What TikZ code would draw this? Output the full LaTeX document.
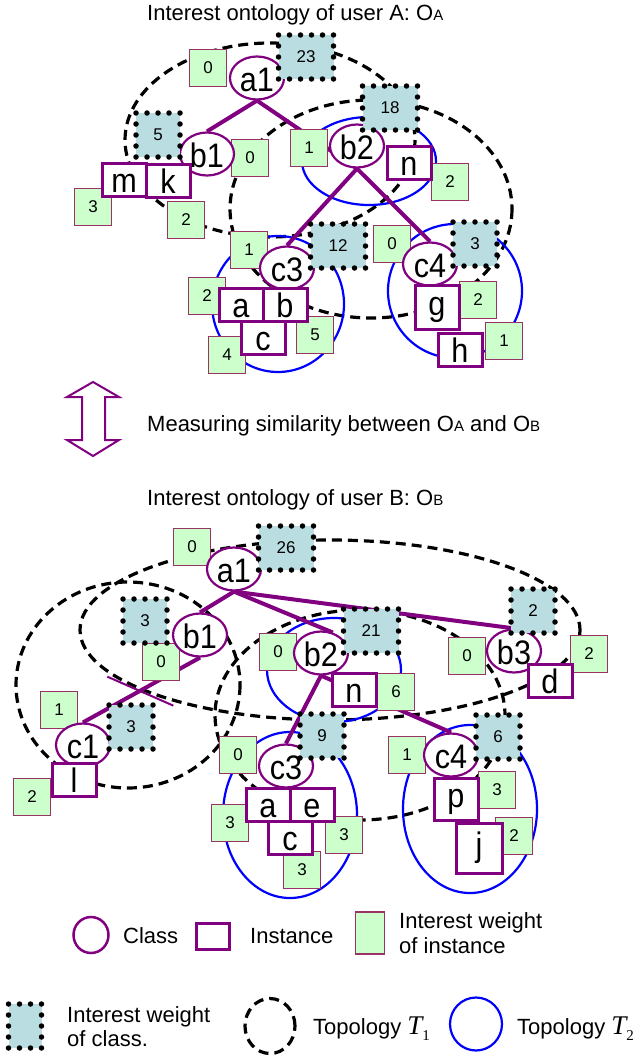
\documentclass[tikz,border=0pt]{standalone}
\usepackage{fontspec}
\setmainfont{Liberation Sans}
\newfontfamily\labelfont[FakeStretch=0.9]{Liberation Sans}
\newfontfamily\serifmath{Liberation Serif}
\usetikzlibrary{shapes.geometric}

\definecolor{classpurple}{HTML}{800080}
\definecolor{instgreen}{HTML}{CCFFCC}
\definecolor{instedge}{HTML}{993366}
\definecolor{classblue}{HTML}{B9DDE1}
\definecolor{topoblue}{HTML}{0000FF}

\pgfdeclarelayer{topology}
\pgfdeclarelayer{links}
\pgfsetlayers{topology,links,main}

% small capital used after the ontology symbol O
\newcommand\capsub[1]{{\fontsize{15}{15}\selectfont #1}}
% topology symbol T with an upright subscript
\newcommand\topsym[1]{{\serifmath\fontsize{27}{27}\selectfont\itshape T}\raisebox{-6pt}{\serifmath\fontsize{15}{15}\selectfont #1}}

\tikzset{
  lbl/.style={font=\labelfont\fontsize{34}{34}\selectfont},
  classnode/.style={ellipse, draw=classpurple, line width=2.2pt, fill=white,
    minimum width=54pt, minimum height=43pt, inner sep=0pt, lbl,
    text height=26pt, text depth=0pt},
  instnode/.style={rectangle, draw=classpurple, line width=3pt, fill=white,
    minimum width=44pt, minimum height=33pt, inner sep=0pt, lbl,
    text height=26pt, text depth=2pt},
  tallinst/.style={text height=24pt, text depth=8pt},
  iweight/.style={rectangle, draw=instedge, line width=1.6pt, fill=instgreen,
    minimum width=37pt, minimum height=37pt, inner sep=0pt,
    font=\fontsize{17}{17}\selectfont},
  cweight/.style={rectangle, fill=classblue, minimum width=44pt, minimum height=44pt,
    inner sep=0pt, font=\fontsize{17}{17}\selectfont,
    postaction={draw=black, line width=5.5pt, line cap=round, dash pattern=on 0pt off 11pt}},
  wide/.style={minimum width=55pt},
  link/.style={draw=classpurple, line width=4pt},
  cutmark/.style={draw=classpurple, line width=2pt},
  topoone/.style={draw=black, line width=3.2pt, dash pattern=on 10pt off 6pt},
  topotwo/.style={draw=topoblue, line width=2.2pt},
  caption/.style={anchor=base west, inner sep=0pt, font=\fontsize{22}{22}\selectfont},
}

\begin{document}
\begin{tikzpicture}[x=1pt, y=-1pt]
\useasboundingbox (0,0) rectangle (643,1057);

% ---------------- captions ----------------
\node[caption] (capA) at (147,21) {Interest ontology of user A: O\capsub{A}};
\node[caption] (capM) at (147,431) {Measuring similarity between O\capsub{A} and O\capsub{B}};
\node[caption] (capB) at (147,505) {Interest ontology of user B: O\capsub{B}};

% double arrow between the two ontologies
\draw[classpurple, line width=2pt, fill=white, line join=miter]
  (93,382) -- (119,397) -- (105,397) -- (105,440) -- (119,440) -- (93,456)
  -- (67,440) -- (82,440) -- (82,397) -- (67,397) -- cycle;

% ================= ontology of user A =================
\begin{pgfonlayer}{topology}
  \draw[topoone] (270,140) ellipse [x radius=145, y radius=97];
  \draw[topoone] (371,209) ellipse [x radius=141, y radius=109];
  \draw[topotwo] (369,161) ellipse [x radius=67, y radius=44];
  \draw[topotwo] (278,304) ellipse [x radius=66, y radius=68];
  \draw[topotwo] (455,291) ellipse [x radius=67, y radius=67];
\end{pgfonlayer}

% instance weights
\node[iweight] (A-w-a1)  at (208,68)  {0};
\node[iweight] (A-w-b1)  at (250,158) {0};
\node[iweight] (A-w-b2)  at (309,148) {1};
\node[iweight] (A-w-m)   at (93,207)  {3};
\node[iweight] (A-w-k)   at (186,220) {2};
\node[iweight] (A-w-n)   at (450,182) {2};
\node[iweight] (A-w-c3)  at (249,250) {1};
\node[iweight] (A-w-a)   at (207,296) {2};
\node[iweight] (A-w-b)   at (315,335) {5};
\node[iweight] (A-w-c)   at (227,355) {4};
\node[iweight] (A-w-c4)  at (392,244) {0};
\node[iweight] (A-w-g)   at (478,300) {2};
\node[iweight] (A-w-h)   at (504,341) {1};

% classes
\node[classnode] (A-a1) at (257,78)  {a1};
\node[classnode] (A-b1) at (207,154) {b1};
\node[classnode] (A-b2) at (357,146) {b2};
\node[classnode] (A-c3) at (287,268) {c3};
\node[classnode] (A-c4) at (430,264) {c4};

% instances
\node[instnode] (A-m) at (124,180) {m};
\node[instnode] (A-k) at (168,181) {k};
\node[instnode] (A-n) at (409,163) {n};
\node[instnode] (A-a) at (241,305) {a};
\node[instnode] (A-b) at (285,305) {b};
\node[instnode] (A-c) at (263,338) {c};
\node[instnode, tallinst, minimum height=44pt] (A-g) at (437,307) {g};
\node[instnode] (A-h) at (460,350) {h};

% class weights
\node[cweight, wide] (A-cw-a1) at (306,57)  {23};
\node[cweight]       (A-cw-b1) at (158,135) {5};
\node[cweight, wide] (A-cw-b2) at (390,108) {18};
\node[cweight, wide] (A-cw-c3) at (338,246) {12};
\node[cweight]       (A-cw-c4) at (475,244) {3};

\begin{pgfonlayer}{links}
  \draw[link] (A-a1.south) -- (A-b1.north);
  \draw[link] (A-a1.south) -- (A-b2.south);
  \draw[link] (A-b2.south) -- (A-c3.north);
  \draw[link] (A-b2.south) -- (A-c4.north);
\end{pgfonlayer}

% ================= ontology of user B =================
\begin{pgfonlayer}{topology}
  \draw[topoone] (330,630) ellipse [x radius=250, y radius=90];
  \draw[topoone] (128,685) ellipse [x radius=112, y radius=103];
  \draw[topoone] (360,715) ellipse [x radius=145, y radius=105];
  \draw[topotwo] (334,670) ellipse [x radius=67, y radius=52];
  \draw[topotwo] (290,815) ellipse [x radius=67, y radius=83];
  \draw[topotwo] (470,809) ellipse [x radius=67, y radius=84];
\end{pgfonlayer}

% instance weights
\node[iweight] (B-w-a1) at (192,547) {0};
\node[iweight] (B-w-b1) at (161,662) {0};
\node[iweight] (B-w-c1) at (59,710)  {1};
\node[iweight] (B-w-l)  at (32,797)  {2};
\node[iweight] (B-w-b2) at (278,652) {0};
\node[iweight] (B-w-n)  at (396,692) {6};
\node[iweight] (B-w-b3) at (467,656) {0};
\node[iweight] (B-w-d)  at (589,654) {2};
\node[iweight] (B-w-c3) at (238,755) {0};
\node[iweight] (B-w-a)  at (230,823) {3};
\node[iweight] (B-w-e)  at (344,835) {3};
\node[iweight] (B-w-c)  at (302,870) {3};
\node[iweight] (B-w-c4) at (407,755) {1};
\node[iweight] (B-w-p)  at (497,790) {3};
\node[iweight] (B-w-j)  at (514,836) {2};

% classes
\node[classnode] (B-a1) at (234,569) {a1};
\node[classnode] (B-b1) at (200,635) {b1};
\node[classnode] (B-b2) at (321,653) {b2};
\node[classnode] (B-b3) at (514,651) {b3};
\node[classnode] (B-c1) at (83,745)  {c1};
\node[classnode] (B-c3) at (286,766) {c3};
\node[classnode] (B-c4) at (451,755) {c4};

% instances
\node[instnode] (B-l) at (74,780)  {l};
\node[instnode] (B-n) at (354,690) {n};
\node[instnode] (B-d) at (550,681) {d};
\node[instnode] (B-a) at (268,805) {a};
\node[instnode] (B-e) at (312,805) {e};
\node[instnode] (B-c) at (290,838) {c};
\node[instnode, tallinst, minimum height=42pt] (B-p) at (456,799) {p};
\node[instnode, tallinst, minimum width=46pt, minimum height=50pt] (B-j) at (479,848) {j};

% class weights
\node[cweight, wide] (B-cw-a1) at (286,548) {26};
\node[cweight]       (B-cw-b1) at (145,621) {3};
\node[cweight]       (B-cw-c1) at (131,727) {3};
\node[cweight, wide] (B-cw-b2) at (371,631) {21};
\node[cweight]       (B-cw-b3) at (533,611) {2};
\node[cweight]       (B-cw-c3) at (322,736) {9};
\node[cweight]       (B-cw-c4) at (498,737) {6};

\begin{pgfonlayer}{links}
  \draw[link] (B-a1.south) -- (B-b1.north);
  \draw[link] (B-a1.south) -- (B-b2.60);
  \draw[link] (B-a1.south) -- (B-b3.north);
  \draw[link] (B-b1.south) -- coordinate[pos=0.51] (B-cut) (B-c1.north);
  \draw[link] (B-b2.south) -- (B-c3.north);
  \draw[link] (B-b2.south) -- (B-c4.north);
\end{pgfonlayer}
% removed link b1 -- c1
\draw[cutmark] ([shift={(-33,-14)}]B-cut) -- ([shift={(33,15)}]B-cut);

% ================= legend =================
\node[ellipse, draw=classpurple, line width=2.5pt, minimum width=35pt, minimum height=36pt, inner sep=0pt] (L-class) at (91,935) {};
\node[caption] (L-class-t) at (123,943) {Class};
\node[rectangle, draw=classpurple, line width=3pt, minimum width=33pt, minimum height=26pt, inner sep=0pt] (L-inst) at (213,936) {};
\node[caption] (L-inst-t) at (250,943) {Instance};
\node[iweight, minimum width=29pt, minimum height=42pt] (L-iw) at (370,933) {};
\node[caption] (L-iw-t1) at (399,928) {Interest weight};
\node[caption] (L-iw-t2) at (399,953) {of instance};

\node[cweight, minimum width=33pt, minimum height=44pt] (L-cw) at (25,1026) {};
\node[caption] (L-cw-t1) at (67,1022) {Interest weight};
\node[caption] (L-cw-t2) at (67,1046) {of class.};
\node[ellipse, topoone, minimum width=50pt, minimum height=55pt, inner sep=0pt] (L-t1) at (270,1026) {};
\node[caption] (L-t1-t) at (313,1034) {Topology \topsym{1}};
\node[ellipse, topotwo, minimum width=52pt, minimum height=53pt, inner sep=0pt] (L-t2) at (476,1024) {};
\node[caption] (L-t2-t) at (517,1034) {Topology \topsym{2}};

\end{tikzpicture}
\end{document}
